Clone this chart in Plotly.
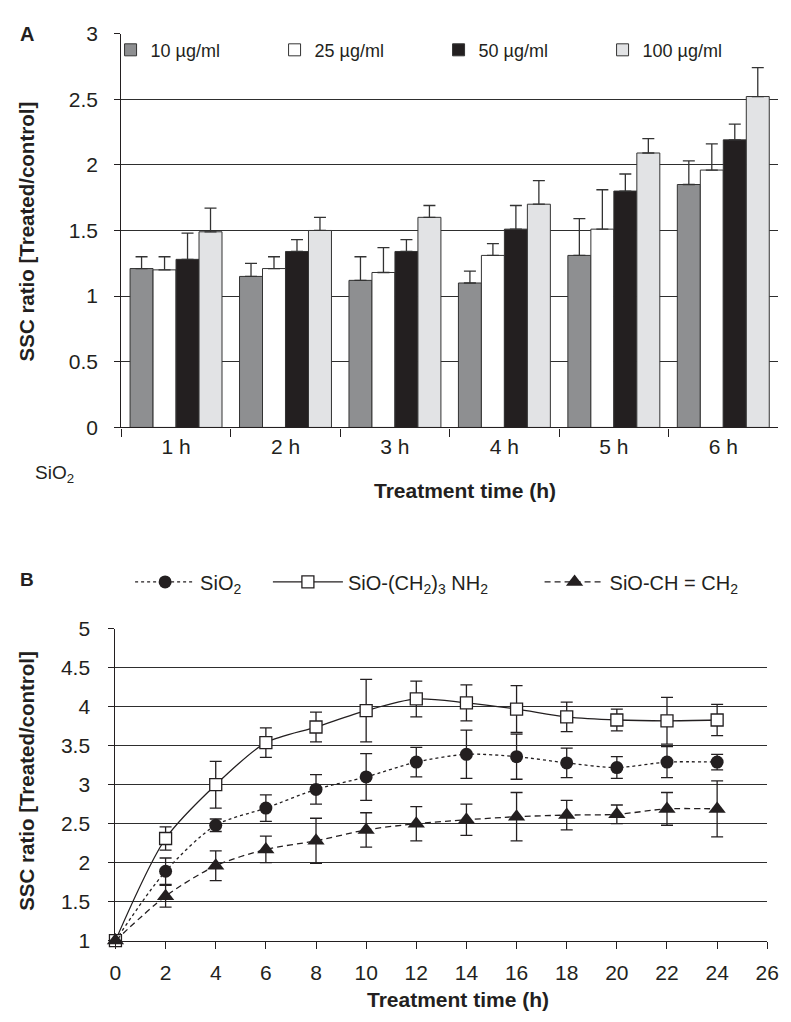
import plotly.graph_objects as go

# ---------------- Panel A data ----------------
categories = ["1 h", "2 h", "3 h", "4 h", "5 h", "6 h"]
conc_labels = ["10 µg/ml", "25 µg/ml", "50 µg/ml", "100 µg/ml"]
bar_10 = [1.21, 1.15, 1.12, 1.10, 1.31, 1.85]
err_10 = [0.09, 0.10, 0.18, 0.09, 0.28, 0.18]
bar_25 = [1.20, 1.21, 1.18, 1.31, 1.51, 1.96]
err_25 = [0.10, 0.09, 0.19, 0.09, 0.30, 0.20]
bar_50 = [1.28, 1.34, 1.34, 1.51, 1.80, 2.19]
err_50 = [0.20, 0.09, 0.09, 0.18, 0.13, 0.12]
bar_100 = [1.49, 1.50, 1.60, 1.70, 2.09, 2.52]
err_100 = [0.18, 0.10, 0.09, 0.18, 0.11, 0.22]

# ---------------- Panel B data ----------------
time_h = [0, 2, 4, 6, 8, 10, 12, 14, 16, 18, 20, 22, 24]
sio2 = [1.0, 1.89, 2.48, 2.70, 2.94, 3.10, 3.29, 3.39, 3.36, 3.28, 3.22, 3.29, 3.29]
sio2_err = [0, 0.17, 0.08, 0.17, 0.19, 0.30, 0.19, 0.31, 0.29, 0.19, 0.14, 0.20, 0.10]
amine = [1.0, 2.31, 3.00, 3.54, 3.74, 3.95, 4.10, 4.05, 3.97, 3.87, 3.83, 3.82, 3.83]
amine_err = [0, 0.15, 0.30, 0.19, 0.19, 0.40, 0.23, 0.23, 0.30, 0.19, 0.14, 0.30, 0.20]
vinyl = [1.0, 1.57, 1.96, 2.17, 2.28, 2.42, 2.50, 2.55, 2.59, 2.61, 2.62, 2.69, 2.69]
vinyl_err = [0, 0.14, 0.19, 0.17, 0.29, 0.22, 0.22, 0.20, 0.31, 0.19, 0.12, 0.21, 0.36]

INK = "#231f20"
GRID = "#2e2e2e"
FONT = "Liberation Sans, Arial, Helvetica, sans-serif"
W, H = 791, 1022

def px(x):
    return x / W

def py(y):
    return 1 - y / H

fig = go.Figure()

bar_series = [
    (bar_10, err_10, "#8e8f91"),
    (bar_25, err_25, "#ffffff"),
    (bar_50, err_50, INK),
    (bar_100, err_100, "#e2e3e5"),
]
for (vals, errs, col), name in zip(bar_series, conc_labels):
    fig.add_trace(go.Bar(
        x=categories, y=vals, name=name,
        marker=dict(color=col, line=dict(color="#333333", width=1)),
        error_y=dict(type="data", symmetric=False, array=errs,
                     arrayminus=[0] * len(errs), color="#333333",
                     thickness=1.3, width=6),
        xaxis="x", yaxis="y", legend="legend",
    ))

line_series = [
    (sio2, sio2_err, "SiO<sub>2</sub>", dict(symbol="circle", size=13, color=INK),
     dict(color=INK, width=1.3, dash="dot"), "legend2"),
    (amine, amine_err, "SiO-(CH<sub>2</sub>)<sub>3</sub> NH<sub>2</sub>",
     dict(symbol="square", size=12, color="white", line=dict(color=INK, width=1.3)),
     dict(color=INK, width=1.3, dash="solid"), "legend3"),
    (vinyl, vinyl_err, "SiO-CH = CH<sub>2</sub>",
     dict(symbol="triangle-up", size=15, color=INK),
     dict(color=INK, width=1.3, dash="6px,4px"), "legend4"),
]
for vals, errs, name, mk, ln, lg in line_series:
    fig.add_trace(go.Scatter(
        x=time_h, y=vals, name=name, mode="lines+markers",
        marker=mk, line=dict(shape="spline", smoothing=0.8, **ln),
        error_y=dict(type="data", array=errs, color=INK, thickness=1.3, width=6),
        cliponaxis=False, xaxis="x2", yaxis="y2", legend=lg,
    ))

axis_common = dict(showline=True, linecolor=INK, linewidth=1.3, ticks="outside",
                   tickcolor=INK, tickwidth=1.3, tickfont=dict(size=21, color=INK),
                   zeroline=False)

fig.update_layout(
    width=W, height=H, margin=dict(l=0, r=0, t=0, b=0),
    paper_bgcolor="white", plot_bgcolor="white",
    font=dict(family=FONT, color=INK),
    barmode="group", bargap=0.16, bargroupgap=0,
    xaxis=dict(domain=[px(118), px(790)], anchor="y", type="category",
               tickson="boundaries", ticklen=8, showgrid=False, **axis_common),
    yaxis=dict(domain=[py(425), py(22)], anchor="x", range=[0, 3], dtick=0.5,
               showgrid=True, gridcolor=GRID, gridwidth=1.2, ticklen=6,
               ticklabelstandoff=12, **axis_common),
    xaxis2=dict(domain=[px(112), px(779)], anchor="y2", range=[0, 26], dtick=2,
                ticklen=7, showgrid=False, ticklabelstandoff=6, **axis_common),
    yaxis2=dict(domain=[py(950), py(631)], anchor="x2", range=[1, 5], dtick=0.5,
                showgrid=True, gridcolor=GRID, gridwidth=1.2, ticklen=6,
                ticklabelstandoff=14, **axis_common),
    legend=dict(orientation="h", x=px(107), y=py(39), xanchor="left", yanchor="middle",
                entrywidth=119, entrywidthmode="pixels", bgcolor="rgba(0,0,0,0)",
                font=dict(size=18, color=INK), itemwidth=30),
    legend2=dict(orientation="h", x=px(127), y=py(583), xanchor="left", yanchor="middle",
                 bgcolor="rgba(0,0,0,0)", font=dict(size=20, color=INK), itemwidth=60),
    legend3=dict(orientation="h", x=px(268), y=py(583), xanchor="left", yanchor="middle",
                 bgcolor="rgba(0,0,0,0)", font=dict(size=20, color=INK), itemwidth=70),
    legend4=dict(orientation="h", x=px(546), y=py(583), xanchor="left", yanchor="middle",
                 bgcolor="rgba(0,0,0,0)", font=dict(size=20, color=INK), itemwidth=60),
)

def ann(text, x, y, size, xanchor="center", angle=0):
    fig.add_annotation(text=text, x=px(x), y=py(y), xref="paper", yref="paper",
                       xanchor=xanchor, yanchor="middle", showarrow=False,
                       textangle=angle, font=dict(size=size, color=INK, family=FONT))

ann("<b>A</b>", 12, 22, 20, "left")
ann("<b>B</b>", 12, 581, 19, "left")
ann("SiO<sub>2</sub>", 28, 473, 19, "left")
ann("<b>Treatment time (h)</b>", 470, 490, 21)
ann("<b>Treatment time (h)</b>", 463, 1010, 21)
ann("<b>SSC ratio [Treated/control]</b>", 21, 225, 20.5, angle=-90)
ann("<b>SSC ratio [Treated/control]</b>", 21, 787, 20.5, angle=-90)

fig.write_html("out.html")
